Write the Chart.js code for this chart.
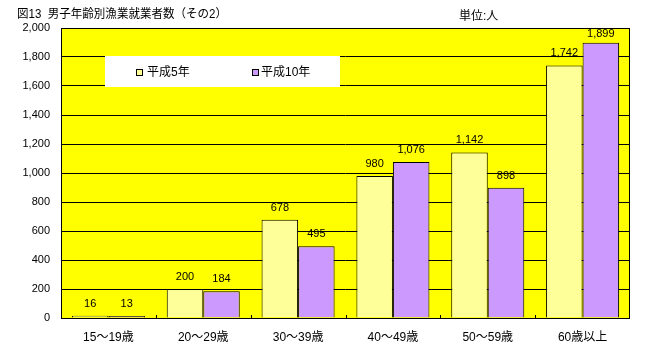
<!DOCTYPE html>
<html lang="ja">
<head>
<meta charset="utf-8">
<script src="https://cdn.jsdelivr.net/npm/chart.js@4/dist/chart.umd.min.js"></script>
<style>
  html, body { margin: 0; padding: 0; background: #fff; }
  #chart { display: block; }
</style>
</head>
<body>
<canvas id="chart" width="648" height="350"></canvas>
<script>
// 男子年齢別漁業就業者数（その2） — bar chart, 平成5年 vs 平成10年
const TITLE   = '図13  男子年齢別漁業就業者数（その2）';
const UNIT    = '単位:人';
const AGES    = ['15～19歳', '20～29歳', '30～39歳', '40～49歳', '50～59歳', '60歳以上'];
const SERIES  = ['平成5年', '平成10年'];
const H5      = [16, 200, 678, 980, 1142, 1742];
const H10     = [13, 184, 495, 1076, 898, 1899];
const Y_TICKS = [0, 200, 400, 600, 800, 1000, 1200, 1400, 1600, 1800, 2000];

const PLOT_BG = '#FFFF00';
const C_H5    = '#FFFF99';
const C_H10   = '#CC99FF';
const FONT    = '"Liberation Sans", "Noto Sans CJK JP", sans-serif';

const fmt = v => v.toLocaleString('en-US');

// yellow plot area, frame, category ticks, value labels, legend box, titles
const decor = {
  id: 'decor',
  beforeDraw(chart) {
    const { ctx, chartArea: a } = chart;
    ctx.save();
    ctx.fillStyle = PLOT_BG;
    ctx.fillRect(a.left, a.top, a.right - a.left, a.bottom - a.top);
    ctx.restore();
  },
  afterDatasetsDraw(chart) {
    const { ctx, chartArea: a } = chart;
    const x = chart.scales.x;
    ctx.save();

    // frame
    ctx.strokeStyle = '#000';
    ctx.lineWidth = 1;
    ctx.strokeRect(a.left + 0.5, a.top + 0.5, a.right - a.left - 1, a.bottom - a.top);

    // short inward ticks between categories
    ctx.beginPath();
    for (let i = 1; i < AGES.length; i++) {
      const px = Math.round((x.getPixelForValue(i - 1) + x.getPixelForValue(i)) / 2) + 0.5;
      ctx.moveTo(px, a.bottom - 3);
      ctx.lineTo(px, a.bottom);
    }
    ctx.stroke();

    // value labels above bars
    ctx.fillStyle = '#000';
    ctx.font = '11px ' + FONT;
    ctx.textAlign = 'center';
    ctx.textBaseline = 'middle';
    chart.data.datasets.forEach((ds, di) => {
      chart.getDatasetMeta(di).data.forEach((bar, i) => {
        const y = Math.max(bar.y - 12, a.top + 6);
        ctx.fillText(fmt(ds.data[i]), bar.x, y);
      });
    });

    // legend box
    ctx.fillStyle = '#fff';
    ctx.fillRect(105, 56, 235, 31);
    const items = [{ sx: 136, tx: 147 }, { sx: 252, tx: 261 }];
    ctx.font = '12px ' + FONT;
    ctx.textAlign = 'left';
    chart.data.datasets.forEach((ds, di) => {
      const it = items[di];
      ctx.fillStyle = ds.backgroundColor;
      ctx.fillRect(it.sx, 69, 7, 7);
      ctx.strokeStyle = '#000';
      ctx.strokeRect(it.sx + 0.5, 69.5, 6, 6);
      ctx.fillStyle = '#000';
      ctx.fillText(ds.label, it.tx, 73);
    });

    // titles
    ctx.font = '12px ' + FONT;
    ctx.fillText(TITLE, 17, 15, 210);
    ctx.fillText(UNIT, 459, 17);
    ctx.restore();
  }
};

new Chart(document.getElementById('chart'), {
  type: 'bar',
  data: {
    labels: AGES,
    datasets: [
      { label: SERIES[0], data: H5,  backgroundColor: C_H5 },
      { label: SERIES[1], data: H10, backgroundColor: C_H10 },
    ].map(d => Object.assign(d, {
      borderColor: '#000',
      borderWidth: 1,
      barPercentage: 1,
      categoryPercentage: 0.77,
    })),
  },
  options: {
    responsive: false,
    animation: false,
    devicePixelRatio: 1,
    layout: { padding: { top: 28, right: 18, left: 0, bottom: 0 } },
    plugins: {
      legend: { display: false },
      tooltip: { enabled: false },
    },
    scales: {
      x: {
        offset: true,
        grid: { display: false },
        border: { display: false },
        ticks: { color: '#000', font: { family: FONT, size: 12 }, padding: 4, maxRotation: 0 },
        afterFit: s => { s.height = 32; },
      },
      y: {
        min: 0,
        max: 2000,
        afterBuildTicks: s => { s.ticks = Y_TICKS.map(v => ({ value: v })); },
        grid: { color: '#000', lineWidth: 1, drawTicks: false },
        border: { display: false },
        ticks: { color: '#000', font: { family: FONT, size: 11 }, padding: 11, callback: v => fmt(v) },
        afterFit: s => { s.width = 61; },
      },
    },
  },
  plugins: [decor],
});
</script>
</body>
</html>
